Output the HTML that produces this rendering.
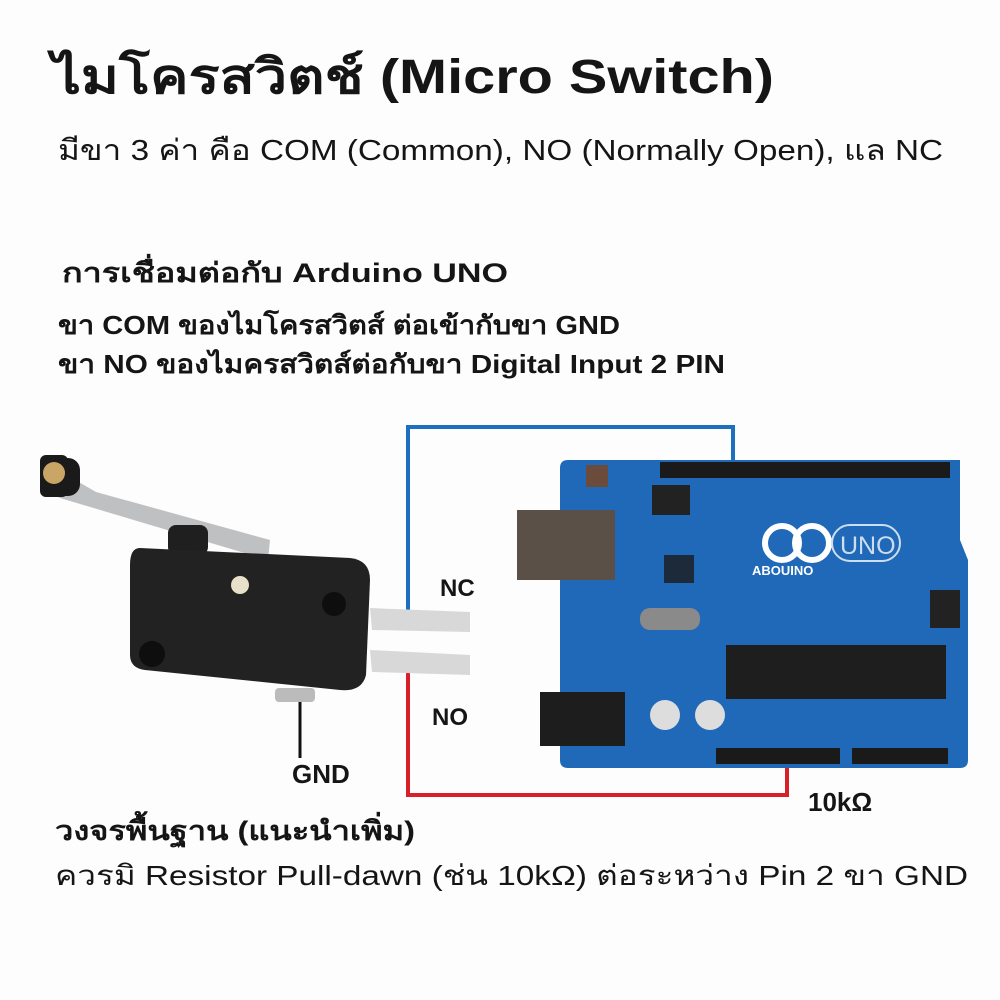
<!DOCTYPE html>
<html><head><meta charset="utf-8"><style>
html,body{margin:0;padding:0;background:#fff;width:1000px;height:1000px;overflow:hidden}
text{font-family:"Liberation Sans","DejaVu Sans","Noto Sans CJK SC",sans-serif;fill:#151515}
</style></head><body>
<svg width="1000" height="1000" viewBox="0 0 1000 1000" xmlns="http://www.w3.org/2000/svg">
<rect width="1000" height="1000" fill="#fdfdfd"/>
<text x="52" y="93" font-size="48" font-weight="bold" textLength="722" lengthAdjust="spacingAndGlyphs">ไมโครสวิตช์ (Micro Switch)</text>
<text x="58" y="160" font-size="29" textLength="885" lengthAdjust="spacingAndGlyphs">มีขา 3 ค่า คือ COM (Common), NO (Normally Open), แล NC</text>
<text x="62" y="282" font-size="27" font-weight="bold" textLength="446" lengthAdjust="spacingAndGlyphs">การเชื่อมต่อกับ Arduino UNO</text>
<text x="58" y="334" font-size="26" font-weight="bold" textLength="562" lengthAdjust="spacingAndGlyphs">ขา COM ของไมโครสวิตส์ ต่อเข้ากับขา GND</text>
<text x="58" y="373" font-size="26" font-weight="bold" textLength="667" lengthAdjust="spacingAndGlyphs">ขา NO ของไมครสวิตส์ต่อกับขา Digital Input 2 PIN</text>

<!-- wires -->
<polyline points="408,612 408,427 733,427 733,472" fill="none" stroke="#1f6fc0" stroke-width="4"/>
<polyline points="408,672 408,795 787,795 787,748" fill="none" stroke="#d8202a" stroke-width="4"/>
<line x1="300" y1="700" x2="300" y2="758" stroke="#111" stroke-width="3"/>

<!-- switch -->
<path d="M40,488 L58,470 L96,492 L270,540 L268,560 L60,498 Z" fill="#bfc0c2"/>
<rect x="40" y="455" width="28" height="42" rx="6" fill="#1a1a1a"/>
<rect x="40" y="458" width="40" height="38" rx="12" fill="#1a1a1a"/>
<circle cx="54" cy="473" r="11" fill="#c9a566"/>
<rect x="168" y="525" width="40" height="30" rx="8" fill="#1f1f1f"/>
<path d="M140,548 Q130,548 130,565 L130,655 Q130,668 145,670 L340,690 Q362,692 366,675 L370,580 Q370,560 350,558 Z" fill="#222"/>
<circle cx="240" cy="585" r="9" fill="#e8e0c8"/>
<circle cx="334" cy="604" r="12" fill="#0e0e0e"/>
<circle cx="152" cy="654" r="13" fill="#0e0e0e"/>
<path d="M370,608 L470,612 L470,632 L372,630 Z" fill="#d8d8d8"/>
<path d="M370,650 L470,655 L470,675 L372,672 Z" fill="#d8d8d8"/>
<rect x="275" y="688" width="40" height="14" rx="4" fill="#bbb"/>

<text x="440" y="596" font-size="24" font-weight="bold">NC</text>
<text x="432" y="725" font-size="24" font-weight="bold">NO</text>
<text x="292" y="783" font-size="26" font-weight="bold">GND</text>
<text x="808" y="811" font-size="26" font-weight="bold">10kΩ</text>

<!-- arduino -->
<path d="M568,460 L960,460 L960,540 L968,560 L968,760 Q968,768 960,768 L568,768 Q560,768 560,760 L560,468 Q560,460 568,460 Z" fill="#2068b8"/>
<rect x="660" y="462" width="290" height="16" fill="#1a1a1a"/>
<rect x="716" y="748" width="124" height="16" fill="#1a1a1a"/>
<rect x="852" y="748" width="96" height="16" fill="#1a1a1a"/>
<rect x="517" y="510" width="98" height="70" fill="#5a5048"/>
<rect x="540" y="692" width="85" height="54" fill="#1d1d1d"/>
<rect x="586" y="465" width="22" height="22" fill="#6b4c3c"/>
<rect x="652" y="485" width="38" height="30" fill="#222"/>
<rect x="664" y="555" width="30" height="28" fill="#1c2a3a"/>
<rect x="640" y="608" width="60" height="22" rx="10" fill="#8a8a8a"/>
<rect x="726" y="645" width="220" height="54" fill="#1e1e1e"/>
<circle cx="665" cy="715" r="15" fill="#ddd"/>
<circle cx="710" cy="715" r="15" fill="#ddd"/>
<rect x="930" y="590" width="30" height="38" fill="#222"/>
<circle cx="782" cy="543" r="17" fill="none" stroke="#fff" stroke-width="6"/>
<circle cx="812" cy="543" r="17" fill="none" stroke="#fff" stroke-width="6"/>
<rect x="832" y="525" width="68" height="36" rx="18" fill="none" stroke="#cde" stroke-width="2"/>
<text x="840" y="554" font-size="25" style="fill:#cde">UNO</text>
<text x="752" y="575" font-size="13" font-weight="bold" style="fill:#fff">ABOUINO</text>

<text x="55" y="840" font-size="27" font-weight="bold" textLength="360" lengthAdjust="spacingAndGlyphs">วงจรพื้นฐาน (แนะนำเพิ่ม)</text>
<text x="55" y="885" font-size="28" textLength="913" lengthAdjust="spacingAndGlyphs">ควรมิ Resistor Pull-dawn (ช่น 10kΩ) ต่อระหว่าง Pin 2 ขา GND</text>
</svg>
</body></html>
